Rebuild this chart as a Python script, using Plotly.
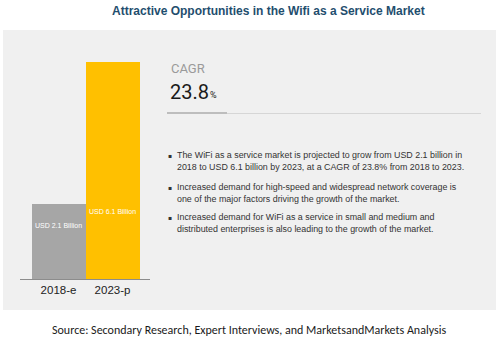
import plotly.graph_objects as go

# Data
categories = ["2018-e", "2023-p"]
values = [2.1, 6.1]
bar_labels = ["USD 2.1 Billion", "USD 6.1 Billion"]
bar_colors = ["#A6A6A6", "#FFC000"]
cagr_value = "23.8"
bullets = [
    ["The WiFi as a service market is projected to grow from USD 2.1 billion in",
     "2018 to USD 6.1 billion by 2023, at a CAGR of 23.8% from 2018 to 2023."],
    ["Increased demand for high-speed and widespread network coverage is",
     "one of the major factors driving the growth of the market."],
    ["Increased demand for WiFi as a service in small and medium and",
     "distributed enterprises is also leading to the growth of the market."],
]
title = "Attractive Opportunities in the Wifi as a Service Market"
source = "Source: Secondary Research, Expert Interviews, and MarketsandMarkets Analysis"

W, H = 500, 344
def px(x): return x / W
def py(y): return 1 - y / H

SANS = "Liberation Sans, Arial, sans-serif"

fig = go.Figure()
fig.add_trace(go.Bar(
    x=[0, 1], y=values, width=1.0,
    marker=dict(color=bar_colors, line=dict(width=0)),
    hoverinfo="skip", showlegend=False,
))

# grey panel
fig.add_shape(type="rect", xref="paper", yref="paper",
              x0=px(3), x1=px(496), y0=py(310), y1=py(30),
              fillcolor="#F0F0F0", line=dict(width=0), layer="below")

annotations = []
# bar value labels (placed inside bars)
label_pos = [(0, 1.5), (0.5, 1.9)]
for i, lab in enumerate(bar_labels):
    annotations.append(dict(x=i, y=label_pos[i][1], xref="x", yref="y",
                            xanchor="center", yanchor="middle",
                            text=lab, showarrow=False,
                            font=dict(family=SANS, size=7, color="white")))

annotations.append(dict(x=px(268), y=py(11), xref="paper", yref="paper",
                        xanchor="center", yanchor="middle",
                        text="<b>" + title + "</b>", showarrow=False,
                        font=dict(family=SANS, size=12, color="#1F4E6E")))
annotations.append(dict(x=px(169), y=py(68), xref="paper", yref="paper",
                        xanchor="left", yanchor="middle", text="CAGR", showarrow=False,
                        font=dict(family="Roboto, Liberation Sans, sans-serif", size=13, color="#9A9A9A")))
annotations.append(dict(x=px(168), y=py(92), xref="paper", yref="paper",
                        xanchor="left", yanchor="middle",
                        text=cagr_value, showarrow=False,
                        font=dict(family="Roboto, Liberation Sans, sans-serif", size=20, color="#1A1A1A")))
annotations.append(dict(x=px(208), y=py(95), xref="paper", yref="paper",
                        xanchor="left", yanchor="middle",
                        text="%", showarrow=False,
                        font=dict(family="Roboto, Liberation Sans, sans-serif", size=9, color="#1A1A1A")))

line_ys = [[155, 167], [187, 199], [217, 229]]
for b, ys in zip(bullets, line_ys):
    annotations.append(dict(x=px(166), y=py(ys[0]), xref="paper", yref="paper",
                            xanchor="left", yanchor="middle", text="▪", showarrow=False,
                            font=dict(family="DejaVu Sans", size=6, color="#333333")))
    for t, y in zip(b, ys):
        annotations.append(dict(x=px(175), y=py(y), xref="paper", yref="paper",
                                xanchor="left", yanchor="middle", text=t, showarrow=False,
                                font=dict(family=SANS, size=8.9, color="#333333")))

annotations.append(dict(x=px(249), y=py(330), xref="paper", yref="paper",
                        xanchor="center", yanchor="middle",
                        text=source, showarrow=False,
                        font=dict(family="Carlito, Open Sans, Liberation Sans, sans-serif", size=12, color="#1A1A1A")))

# divider line under CAGR
fig.add_shape(type="line", xref="paper", yref="paper",
              x0=px(167), x1=px(481), y0=py(113.5), y1=py(113.5),
              line=dict(color="#D6D6D6", width=1))
fig.add_shape(type="line", xref="paper", yref="paper",
              x0=px(167), x1=px(227), y0=py(113), y1=py(113),
              line=dict(color="#BDBDBD", width=2))

fig.update_layout(
    width=W, height=H,
    margin=dict(l=0, r=0, t=0, b=0),
    paper_bgcolor="white", plot_bgcolor="rgba(0,0,0,0)",
    annotations=annotations,
    bargap=0,
    xaxis=dict(domain=[px(20), px(150)], range=[-0.713, 1.694],
               tickmode="array", tickvals=[0, 1], ticktext=categories,
               showline=True, linecolor="#8C8C8C", linewidth=1,
               showgrid=False, zeroline=False, ticks="",
               tickfont=dict(family=SANS, size=11.5, color="#222222")),
    yaxis=dict(domain=[py(279), py(30)], range=[0, 7],
               visible=False, showgrid=False, zeroline=False),
)

fig.write_html("out.html")
